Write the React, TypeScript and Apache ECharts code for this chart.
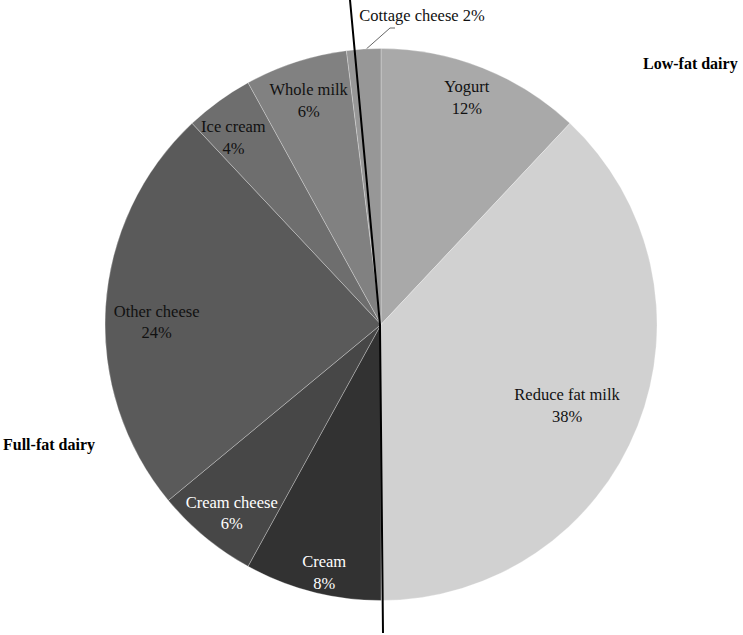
import React, { useEffect, useRef } from "react";
import * as echarts from "echarts";

const categories = [
  "Yogurt",
  "Reduce fat milk",
  "Cream",
  "Cream cheese",
  "Other cheese",
  "Ice cream",
  "Whole milk",
  "Cottage cheese",
];
const values = [12, 38, 8, 6, 24, 4, 6, 2];
const groupLabels = ["Low-fat dairy", "Full-fat dairy"];

const colors = ["#a9a9a9", "#d1d1d1", "#323232", "#474747", "#5a5a5a", "#6e6e6e", "#818181", "#979797"];
const labelColors = ["#111", "#111", "#fff", "#fff", "#111", "#111", "#111", "#111"];
const labelRadiusFactor = [0.88, 0.735, 0.922, 0.871, 0.813, 0.863, 0.853, 1.2];
const labelAngleShiftDeg = [-0.9, 1.9, -1.5, -1.2, -3.0, -2.3, 0.1, 0];

const CX = 381;
const CY = 324.5;
const R = 276;
const FONT = "'Liberation Serif', 'Times New Roman', serif";

export default function App() {
  const ref = useRef<HTMLDivElement>(null);
  useEffect(() => {
    if (!ref.current) return;
    const chart = echarts.init(ref.current, null, { renderer: "svg" });
    const total = values.reduce((a, b) => a + b, 0);
    const mids: number[] = [];
    let acc = 0;
    values.forEach((v) => {
      mids.push(((acc + v / 2) / total) * 2 * Math.PI);
      acc += v;
    });
    const last = categories.length - 1;

    const data = categories.map((name, i) => {
      const item: any = {
        name,
        value: values[i],
        itemStyle: { color: colors[i] },
        label: { color: labelColors[i] },
      };
      if (i === last) {
        item.label = { position: "outside", color: "#111", formatter: "{b} {c}%" };
        item.labelLine = { show: true, length: 20, length2: 6, lineStyle: { color: "#666", width: 1 } };
      }
      return item;
    });

    chart.setOption({
      animation: false,
      backgroundColor: "#fff",
      series: [
        {
          type: "pie",
          center: [CX, CY],
          radius: [0, R],
          startAngle: 90,
          clockwise: true,
          avoidLabelOverlap: false,
          silent: true,
          itemStyle: { borderColor: "rgba(255,255,255,0.35)", borderWidth: 0.8 },
          label: {
            show: true,
            position: "inside",
            formatter: "{b}\n{c}%",
            fontFamily: FONT,
            fontSize: 16.5,
            lineHeight: 21.5,
          },
          labelLine: { show: false },
          labelLayout: (p: any) => {
            const i = p.dataIndex;
            if (i === last) {
              const tx = 422;
              const ty = 15;
              const a = mids[i] + 0.01;
              const sx = CX + R * Math.sin(a);
              const sy = CY - R * Math.cos(a);
              return {
                x: tx,
                y: ty,
                align: "center",
                verticalAlign: "middle",
                labelLinePoints: [
                  [sx, sy],
                  [tx - 32, ty + 13],
                  [tx - 27, ty + 13],
                ],
              };
            }
            const d = labelRadiusFactor[i] * R;
            const a = mids[i] + (labelAngleShiftDeg[i] * Math.PI) / 180;
            return {
              x: CX + d * Math.sin(a),
              y: CY - d * Math.cos(a),
              align: "center",
              verticalAlign: "middle",
            };
          },
          data,
        },
      ],
      graphic: [
        {
          type: "polyline",
          silent: true,
          z: 100,
          shape: {
            points: [
              [CX - 31, 0],
              [CX - 1, CY],
              [CX + 2, 633],
            ],
          },
          style: { stroke: "#000", lineWidth: 2, fill: null },
        },
        {
          type: "text",
          left: 643,
          top: 55,
          style: { text: groupLabels[0], font: `bold 16px ${FONT}`, fill: "#000" },
        },
        {
          type: "text",
          left: 3,
          top: 436,
          style: { text: groupLabels[1], font: `bold 16px ${FONT}`, fill: "#000" },
        },
      ],
    });
    return () => chart.dispose();
  }, []);
  return (
    <div
      ref={ref}
      style={{ position: "absolute", left: 0, top: 0, width: 743, height: 635 }}
    />
  );
}
